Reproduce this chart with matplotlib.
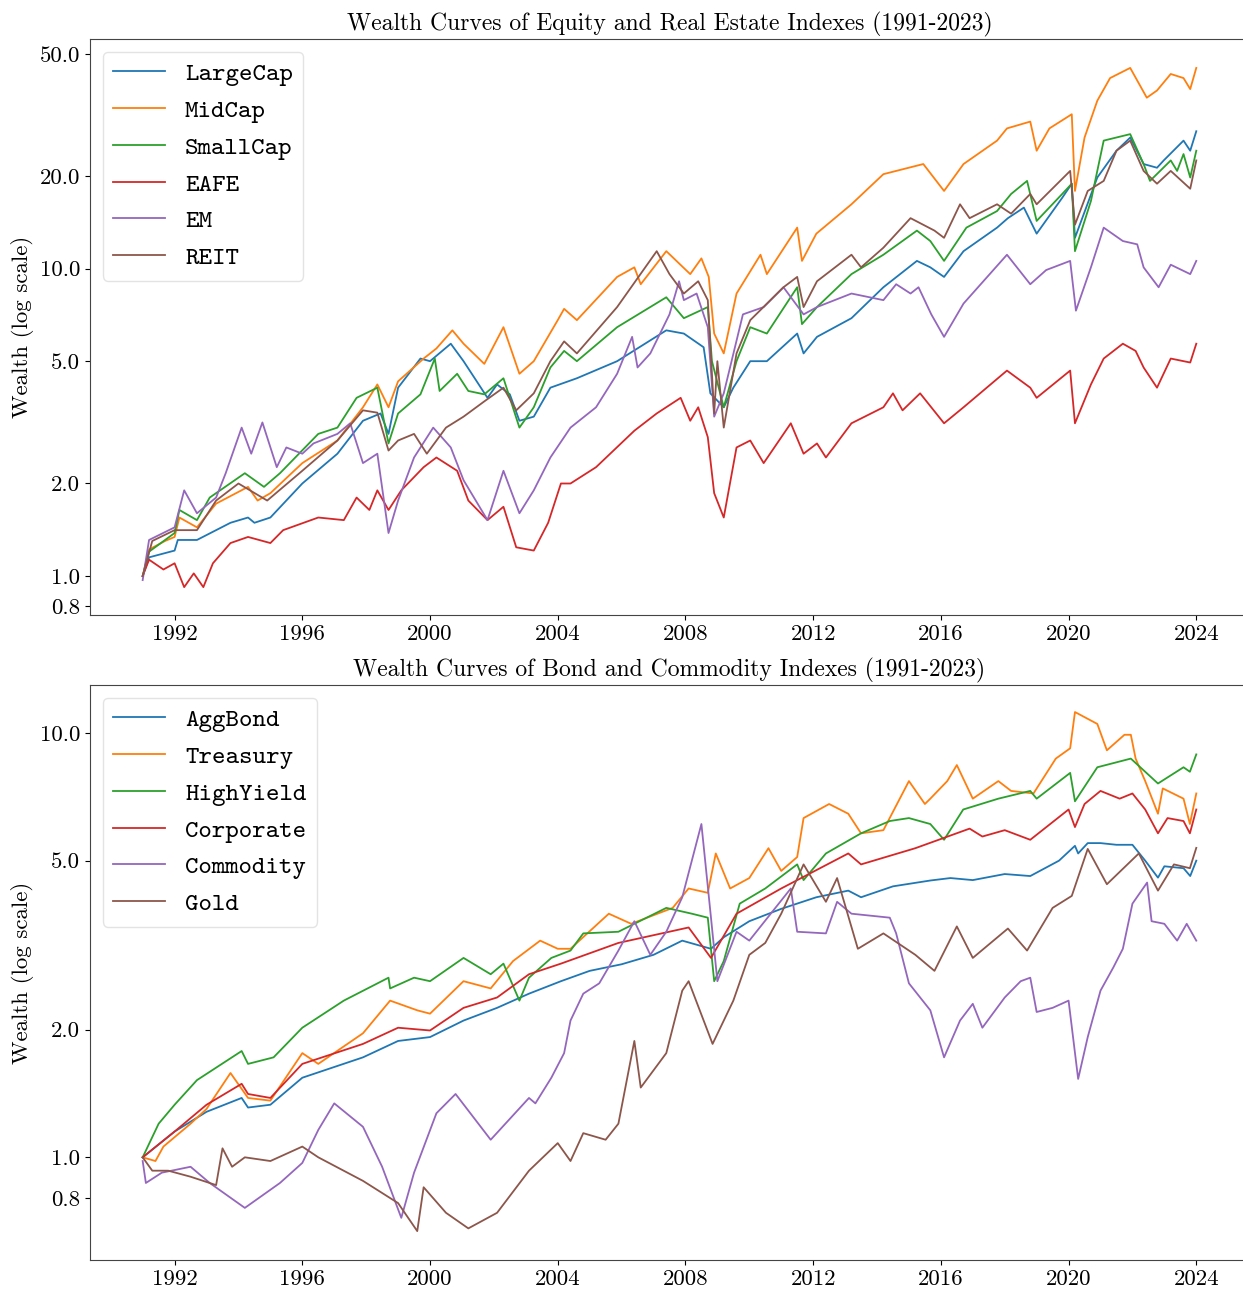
import matplotlib
matplotlib.use("Agg")
import matplotlib.pyplot as plt
from matplotlib.ticker import FixedLocator, FixedFormatter, NullLocator

plt.rcParams['font.family'] = 'cmr10'
plt.rcParams['axes.formatter.use_mathtext'] = True

# ---------------------------------------------------------------
# Data: wealth values (decimal year, value)
# ---------------------------------------------------------------
# Equity / real estate
largecap_t = [1991.0, 1991.2, 1992.0, 1992.1, 1992.7, 1993.75, 1994.3, 1994.5, 1995.0, 1996.0,
              1997.1, 1997.9, 1998.45, 1998.7, 1999.0, 1999.7, 2000.0, 2000.65, 2001.05, 2001.4,
              2001.8, 2002.1, 2002.5, 2002.8, 2003.25, 2003.77, 2004.6, 2005.86, 2007.4, 2007.95,
              2008.57, 2008.78, 2009.2, 2009.5, 2010.03, 2010.55, 2011.5, 2011.7, 2012.12, 2013.2,
              2014.2, 2015.25, 2015.67, 2016.1, 2016.71, 2017.76, 2018.1, 2018.6, 2019.0, 2019.8,
              2020.1, 2020.2, 2020.9, 2021.5, 2021.93, 2022.35, 2022.77, 2022.98, 2023.6, 2023.81, 2024.0]
largecap_v = [1.0, 1.15, 1.21, 1.31, 1.31, 1.49, 1.55, 1.49, 1.55, 2.0,
              2.5, 3.2, 3.38, 2.9, 4.1, 5.1, 5.0, 5.7, 5.0, 4.4,
              3.8, 4.2, 3.9, 3.2, 3.3, 4.1, 4.4, 5.0, 6.3, 6.15,
              5.55, 3.93, 3.54, 4.1, 5.0, 5.0, 6.15, 5.3, 6.0, 6.9,
              8.7, 10.6, 10.1, 9.4, 11.4, 13.6, 14.6, 15.8, 13.0, 17.0,
              18.9, 12.6, 19.8, 24.2, 26.7, 21.9, 21.3, 22.5, 26.1, 24.2, 28.0]

midcap_t = [1991.0, 1991.2, 1991.7, 1992.0, 1992.15, 1992.7, 1993.3, 1994.3, 1994.6, 1995.0,
            1996.0, 1997.1, 1997.9, 1998.35, 1998.7, 1999.0, 1999.8, 2000.2, 2000.7, 2001.05,
            2001.7, 2002.3, 2002.8, 2003.25, 2004.0, 2004.2, 2004.6, 2005.86, 2006.4, 2006.6,
            2007.4, 2008.15, 2008.5, 2008.73, 2008.9, 2009.2, 2009.6, 2010.35, 2010.55, 2011.5,
            2011.65, 2012.1, 2013.2, 2014.2, 2015.45, 2016.1, 2016.71, 2017.76, 2018.07, 2018.8,
            2019.0, 2019.4, 2020.1, 2020.2, 2020.5, 2020.9, 2021.3, 2021.93, 2022.45, 2022.77,
            2023.2, 2023.6, 2023.81, 2024.0]
midcap_v = [1.0, 1.22, 1.3, 1.34, 1.55, 1.44, 1.72, 1.95, 1.76, 1.86,
            2.33, 2.76, 3.54, 4.2, 3.54, 4.3, 5.1, 5.5, 6.3, 5.7,
            4.9, 6.45, 4.55, 5.0, 6.8, 7.4, 6.8, 9.4, 10.1, 8.9,
            11.4, 9.6, 10.8, 9.4, 6.15, 5.3, 8.3, 11.1, 9.6, 13.6,
            10.6, 13.0, 16.2, 20.3, 21.9, 17.9, 21.9, 26.1, 28.6, 30.1,
            24.2, 28.6, 31.8, 17.9, 26.7, 35.2, 41.7, 45.0, 36.0, 38.0,
            43.0, 41.7, 38.4, 45.0]

smallcap_t = [1991.0, 1991.2, 1992.0, 1992.15, 1992.7, 1993.1, 1994.2, 1994.8, 1995.3, 1996.5,
              1997.1, 1997.7, 1998.35, 1998.7, 1999.0, 1999.7, 2000.15, 2000.3, 2000.85, 2001.2,
              2001.7, 2002.3, 2002.8, 2003.25, 2003.77, 2004.2, 2004.6, 2005.86, 2007.4, 2007.95,
              2008.7, 2008.83, 2009.2, 2009.6, 2010.03, 2010.55, 2011.5, 2011.65, 2012.12, 2013.2,
              2014.2, 2015.25, 2015.67, 2016.1, 2016.8, 2017.76, 2018.2, 2018.7, 2019.0, 2019.8,
              2020.1, 2020.2, 2020.7, 2021.1, 2021.93, 2022.35, 2022.55, 2023.2, 2023.4, 2023.6,
              2023.81, 2024.0]
smallcap_v = [1.0, 1.2, 1.38, 1.64, 1.52, 1.8, 2.16, 1.95, 2.16, 2.9,
              3.04, 3.8, 4.1, 2.7, 3.38, 3.9, 5.1, 4.0, 4.55, 4.0,
              3.9, 4.4, 3.04, 3.54, 4.77, 5.4, 5.0, 6.45, 8.07, 6.9,
              7.5, 5.0, 3.54, 5.0, 6.45, 6.15, 8.7, 6.6, 7.5, 9.6,
              11.1, 13.3, 12.3, 10.6, 13.6, 15.4, 17.5, 19.3, 14.3, 17.5,
              18.9, 11.4, 16.6, 26.1, 27.4, 21.9, 19.3, 22.5, 20.8, 23.6,
              19.8, 24.2]

eafe_t = [1991.0, 1991.2, 1991.65, 1992.0, 1992.3, 1992.6, 1992.9, 1993.2, 1993.75, 1994.3,
          1995.0, 1995.4, 1996.5, 1997.3, 1997.7, 1998.1, 1998.35, 1998.7, 1999.1, 1999.8,
          2000.2, 2000.85, 2001.2, 2001.8, 2002.3, 2002.7, 2003.25, 2003.7, 2004.1, 2004.4,
          2005.2, 2006.4, 2007.1, 2007.85, 2008.15, 2008.4, 2008.7, 2008.9, 2009.2, 2009.6,
          2010.03, 2010.45, 2011.3, 2011.7, 2012.12, 2012.4, 2013.2, 2014.2, 2014.5, 2014.8,
          2015.35, 2016.1, 2016.71, 2018.07, 2018.8, 2019.0, 2020.05, 2020.2, 2020.7, 2021.1,
          2021.7, 2022.1, 2022.35, 2022.77, 2023.2, 2023.81, 2024.0]
eafe_v = [1.0, 1.13, 1.05, 1.1, 0.92, 1.02, 0.92, 1.1, 1.28, 1.34,
          1.28, 1.41, 1.55, 1.52, 1.8, 1.64, 1.9, 1.64, 1.9, 2.26,
          2.43, 2.2, 1.76, 1.52, 1.68, 1.24, 1.21, 1.49, 2.0, 2.0,
          2.26, 2.97, 3.38, 3.8, 3.2, 3.54, 2.83, 1.86, 1.55, 2.62,
          2.76, 2.33, 3.14, 2.5, 2.7, 2.43, 3.14, 3.54, 3.93, 3.46,
          3.93, 3.14, 3.54, 4.66, 4.1, 3.8, 4.66, 3.14, 4.2, 5.1,
          5.7, 5.4, 4.77, 4.1, 5.1, 4.95, 5.7]

em_t = [1991.0, 1991.2, 1992.0, 1992.3, 1992.7, 1993.3, 1993.6, 1994.1, 1994.4, 1994.75,
        1995.2, 1995.5, 1996.0, 1996.35, 1997.1, 1997.5, 1997.9, 1998.35, 1998.7, 1999.0,
        1999.5, 2000.1, 2000.65, 2001.05, 2001.8, 2002.3, 2002.8, 2003.25, 2003.77, 2004.4,
        2005.2, 2005.86, 2006.33, 2006.5, 2006.9, 2007.5, 2007.8, 2007.95, 2008.35, 2008.7,
        2008.9, 2009.2, 2009.8, 2010.45, 2011.07, 2011.7, 2012.12, 2013.2, 2014.2, 2014.6,
        2015.05, 2015.3, 2015.7, 2016.1, 2016.71, 2018.07, 2018.8, 2019.3, 2020.05, 2020.23,
        2020.7, 2021.1, 2021.7, 2022.15, 2022.35, 2022.82, 2023.2, 2023.81, 2024.0]
em_v = [0.97, 1.31, 1.44, 1.9, 1.6, 1.8, 2.16, 3.04, 2.5, 3.16,
        2.26, 2.62, 2.5, 2.7, 2.9, 3.14, 2.33, 2.5, 1.38, 1.76,
        2.43, 3.04, 2.62, 2.05, 1.52, 2.2, 1.6, 1.9, 2.43, 3.04,
        3.54, 4.55, 6.0, 4.77, 5.3, 7.1, 9.1, 7.9, 8.3, 6.45,
        3.3, 3.93, 7.1, 7.5, 8.7, 7.1, 7.5, 8.3, 7.9, 8.9,
        8.3, 8.7, 7.1, 6.0, 7.7, 11.1, 8.9, 9.9, 10.6, 7.3,
        10.1, 13.6, 12.3, 12.0, 10.1, 8.7, 10.3, 9.6, 10.6]

reit_t = [1991.0, 1991.3, 1992.0, 1992.7, 1993.3, 1994.0, 1994.9, 1996.0, 1997.1, 1997.9,
          1998.35, 1998.7, 1999.0, 1999.5, 1999.9, 2000.5, 2001.05, 2001.7, 2002.3, 2002.7,
          2003.25, 2003.77, 2004.2, 2004.6, 2005.86, 2007.1, 2007.5, 2007.95, 2008.4, 2008.7,
          2008.9, 2009.0, 2009.2, 2009.6, 2010.03, 2011.07, 2011.5, 2011.7, 2012.12, 2013.2,
          2013.5, 2014.2, 2015.05, 2015.8, 2016.1, 2016.6, 2016.9, 2017.76, 2018.2, 2018.8,
          2019.0, 2020.05, 2020.2, 2020.6, 2021.1, 2021.5, 2021.93, 2022.35, 2022.77, 2023.2,
          2023.81, 2024.0]
reit_v = [1.0, 1.3, 1.41, 1.41, 1.76, 2.0, 1.76, 2.2, 2.76, 3.46,
          3.4, 2.56, 2.76, 2.9, 2.5, 3.04, 3.3, 3.7, 4.1, 3.46,
          3.93, 5.0, 5.8, 5.3, 7.5, 11.4, 9.6, 8.3, 9.1, 7.9,
          3.38, 5.0, 3.04, 5.3, 6.8, 8.7, 9.4, 7.5, 9.1, 11.1,
          10.1, 11.7, 14.6, 13.3, 12.6, 16.2, 14.6, 16.2, 15.1, 17.5,
          16.2, 20.8, 13.9, 17.9, 19.3, 24.2, 26.1, 20.8, 18.9, 20.8,
          18.2, 22.5]

# Bonds / commodities
aggbond_t = [1991.0, 1992.0, 1993.0, 1994.1, 1994.3, 1995.0, 1996.0, 1997.9, 1999.0, 2000.0,
             2001.05, 2002.1, 2003.1, 2004.1, 2005.0, 2006.0, 2007.0, 2007.9, 2008.8, 2009.2,
             2010.0, 2011.0, 2012.1, 2013.1, 2013.5, 2014.5, 2015.67, 2016.3, 2017.0, 2018.0,
             2018.8, 2019.7, 2020.2, 2020.3, 2020.6, 2021.0, 2021.5, 2022.0, 2022.4, 2022.8,
             2023.0, 2023.6, 2023.81, 2024.0]
aggbond_v = [1.0, 1.15, 1.28, 1.38, 1.31, 1.33, 1.54, 1.72, 1.88, 1.92,
             2.1, 2.25, 2.43, 2.6, 2.75, 2.85, 3.0, 3.24, 3.1, 3.3,
             3.6, 3.85, 4.1, 4.25, 4.1, 4.35, 4.49, 4.55, 4.5, 4.65,
             4.6, 5.0, 5.42, 5.2, 5.5, 5.5, 5.45, 5.45, 5.0, 4.56,
             4.85, 4.8, 4.6, 5.0]

treasury_t = [1991.0, 1991.4, 1991.65, 1992.5, 1993.0, 1993.75, 1994.3, 1995.0, 1996.0, 1996.5,
              1997.9, 1998.75, 1999.6, 2000.0, 2001.05, 2001.9, 2002.6, 2003.45, 2004.0, 2004.4,
              2005.6, 2006.3, 2007.6, 2008.1, 2008.7, 2008.95, 2009.4, 2010.0, 2010.6, 2011.0,
              2011.5, 2011.7, 2012.5, 2013.1, 2013.5, 2014.2, 2015.0, 2015.5, 2015.67, 2016.2,
              2016.5, 2017.0, 2017.8, 2018.2, 2018.9, 2019.6, 2020.05, 2020.2, 2020.9, 2021.2,
              2021.75, 2021.95, 2022.1, 2022.4, 2022.8, 2022.95, 2023.6, 2023.8, 2024.0]
treasury_v = [1.0, 0.98, 1.06, 1.2, 1.3, 1.58, 1.38, 1.36, 1.76, 1.66,
              1.96, 2.34, 2.22, 2.18, 2.6, 2.5, 2.9, 3.24, 3.1, 3.1,
              3.75, 3.55, 3.87, 4.3, 4.2, 5.2, 4.3, 4.55, 5.35, 4.73,
              5.1, 6.3, 6.8, 6.45, 5.8, 5.9, 7.7, 6.8, 7.0, 7.7,
              8.4, 7.0, 7.7, 7.3, 7.2, 8.7, 9.2, 11.2, 10.5, 9.1,
              9.9, 9.9, 8.7, 7.7, 6.45, 7.4, 7.0, 6.1, 7.2]

highyield_t = [1991.0, 1991.5, 1992.0, 1992.7, 1994.1, 1994.3, 1995.1, 1996.0, 1997.3, 1998.7,
               1998.75, 1999.5, 2000.0, 2001.05, 2001.9, 2002.3, 2002.8, 2003.1, 2003.8, 2004.4,
               2004.8, 2005.9, 2007.4, 2008.2, 2008.7, 2008.9, 2009.2, 2009.7, 2010.5, 2011.5,
               2011.7, 2012.4, 2013.5, 2014.4, 2015.0, 2015.67, 2016.1, 2016.7, 2017.8, 2018.8,
               2019.0, 2020.05, 2020.2, 2020.9, 2021.95, 2022.4, 2022.8, 2023.6, 2023.8, 2024.0]
highyield_v = [1.0, 1.2, 1.33, 1.52, 1.78, 1.66, 1.72, 2.02, 2.34, 2.65,
               2.5, 2.65, 2.6, 2.95, 2.7, 2.86, 2.34, 2.65, 2.95, 3.07,
               3.37, 3.4, 3.87, 3.75, 3.67, 2.6, 2.9, 3.96, 4.3, 4.9,
               4.5, 5.2, 5.8, 6.2, 6.3, 6.1, 5.6, 6.6, 7.0, 7.3,
               7.0, 8.05, 6.9, 8.3, 8.7, 8.1, 7.6, 8.3, 8.1, 8.9]

corporate_t = [1991.0, 1992.0, 1993.0, 1994.1, 1994.3, 1995.0, 1996.0, 1997.9, 1999.0, 2000.0,
               2001.05, 2002.1, 2003.1, 2004.1, 2005.9, 2008.1, 2008.8, 2009.6, 2011.0, 2013.1,
               2013.5, 2015.2, 2016.9, 2017.3, 2018.0, 2018.8, 2020.0, 2020.2, 2020.5, 2021.0,
               2021.6, 2022.0, 2022.4, 2022.8, 2023.1, 2023.6, 2023.8, 2024.0]
corporate_v = [1.0, 1.15, 1.33, 1.49, 1.41, 1.38, 1.66, 1.85, 2.02, 1.99,
               2.25, 2.38, 2.7, 2.86, 3.2, 3.48, 2.95, 3.75, 4.3, 5.2,
               4.9, 5.35, 5.95, 5.7, 5.9, 5.6, 6.6, 6.0, 6.8, 7.3,
               7.0, 7.2, 6.6, 5.8, 6.3, 6.2, 5.8, 6.6]

commodity_t = [1991.0, 1991.1, 1991.6, 1992.5, 1993.1, 1994.2, 1995.3, 1996.0, 1996.5, 1997.0,
               1997.9, 1998.5, 1999.1, 1999.5, 2000.2, 2000.8, 2001.9, 2003.1, 2003.3, 2003.8,
               2004.2, 2004.4, 2004.8, 2005.3, 2005.9, 2006.4, 2006.9, 2007.4, 2007.9, 2008.5,
               2008.8, 2009.0, 2009.6, 2010.0, 2011.3, 2011.5, 2012.4, 2012.75, 2013.2, 2014.4,
               2014.6, 2015.0, 2015.67, 2016.1, 2016.6, 2017.0, 2017.3, 2018.0, 2018.5, 2018.8,
               2019.0, 2019.5, 2020.0, 2020.3, 2020.6, 2021.0, 2021.4, 2021.7, 2022.0, 2022.46,
               2022.6, 2023.0, 2023.4, 2023.7, 2024.0]
commodity_v = [0.98, 0.87, 0.92, 0.95, 0.87, 0.76, 0.87, 0.97, 1.16, 1.34,
               1.18, 0.95, 0.72, 0.92, 1.27, 1.41, 1.1, 1.38, 1.34, 1.54,
               1.76, 2.1, 2.43, 2.57, 3.07, 3.6, 3.0, 3.4, 4.1, 6.1,
               3.67, 2.6, 3.4, 3.24, 4.3, 3.4, 3.37, 4.0, 3.75, 3.67,
               3.37, 2.57, 2.22, 1.72, 2.1, 2.3, 2.02, 2.38, 2.6, 2.65,
               2.2, 2.25, 2.34, 1.53, 1.92, 2.47, 2.8, 3.1, 3.96, 4.44,
               3.6, 3.55, 3.24, 3.55, 3.24]

gold_t = [1991.0, 1991.3, 1991.8, 1992.5, 1993.3, 1993.5, 1993.8, 1994.2, 1995.0, 1996.0,
          1996.5, 1997.9, 1999.0, 1999.6, 1999.8, 2000.5, 2001.2, 2002.1, 2003.1, 2004.0,
          2004.4, 2004.8, 2005.5, 2005.9, 2006.4, 2006.6, 2007.4, 2007.9, 2008.1, 2008.85,
          2009.5, 2010.0, 2010.5, 2011.0, 2011.7, 2012.4, 2012.75, 2013.4, 2014.2, 2015.2,
          2015.8, 2016.5, 2017.0, 2018.1, 2018.7, 2019.5, 2020.1, 2020.6, 2021.2, 2022.2,
          2022.8, 2023.3, 2023.8, 2024.0]
gold_v = [1.0, 0.93, 0.93, 0.9, 0.86, 1.05, 0.95, 1.0, 0.98, 1.06,
          1.0, 0.88, 0.78, 0.67, 0.85, 0.74, 0.68, 0.74, 0.93, 1.08,
          0.98, 1.14, 1.1, 1.2, 1.88, 1.46, 1.76, 2.47, 2.6, 1.85,
          2.34, 3.0, 3.2, 3.75, 4.9, 4.0, 4.55, 3.1, 3.37, 3.0,
          2.75, 3.5, 2.95, 3.46, 3.07, 3.87, 4.13, 5.33, 4.4, 5.2,
          4.25, 4.9, 4.8, 5.36]

colors = ['#1f77b4', '#ff7f0e', '#2ca02c', '#d62728', '#9467bd', '#8c564b']

equity = [('LargeCap', largecap_t, largecap_v), ('MidCap', midcap_t, midcap_v),
          ('SmallCap', smallcap_t, smallcap_v), ('EAFE', eafe_t, eafe_v),
          ('EM', em_t, em_v), ('REIT', reit_t, reit_v)]
bonds = [('AggBond', aggbond_t, aggbond_v), ('Treasury', treasury_t, treasury_v),
         ('HighYield', highyield_t, highyield_v), ('Corporate', corporate_t, corporate_v),
         ('Commodity', commodity_t, commodity_v), ('Gold', gold_t, gold_v)]

year_ticks = [1992, 1996, 2000, 2004, 2008, 2012, 2016, 2020, 2024]

# -----------------------------
# Figure
# -----------------------------
fig = plt.figure(figsize=(12.43, 12.9), dpi=100)
ax1 = fig.add_axes([0.0724, 0.5233, 0.9324, 0.4465])
ax2 = fig.add_axes([0.0724, 0.0233, 0.9324, 0.4457])


def draw(ax, series, title, yticks, ylim):
    for (name, t, v), c in zip(series, colors):
        ax.plot(t, v, color=c, lw=1.3, label=name)
    ax.set_yscale('log')
    ax.set_xlim(1989.35, 2025.65)
    ax.set_ylim(*ylim)
    ax.yaxis.set_major_locator(FixedLocator(yticks))
    ax.yaxis.set_major_formatter(FixedFormatter([f'{y:.1f}' for y in yticks]))
    ax.yaxis.set_minor_locator(NullLocator())
    ax.set_xticks(year_ticks)
    ax.set_xticklabels([str(y) for y in year_ticks])
    ax.tick_params(labelsize=16.5)
    ax.set_ylabel('Wealth (log scale)', fontsize=16.5)
    ax.set_title(title, fontsize=17)
    for s in ax.spines.values():
        s.set_color('#444444')
    leg = ax.legend(loc='upper left', prop={'family': 'cmtt10', 'size': 18.5},
                    handlelength=2.0)
    leg.get_frame().set_edgecolor('#dddddd')


draw(ax1, equity, 'Wealth Curves of Equity and Real Estate Indexes (1991-2023)',
     [0.8, 1.0, 2.0, 5.0, 10.0, 20.0, 50.0], (0.747, 55.9))
draw(ax2, bonds, 'Wealth Curves of Bond and Commodity Indexes (1991-2023)',
     [0.8, 1.0, 2.0, 5.0, 10.0], (0.573, 12.97))

fig.savefig('out.png', dpi=100)
